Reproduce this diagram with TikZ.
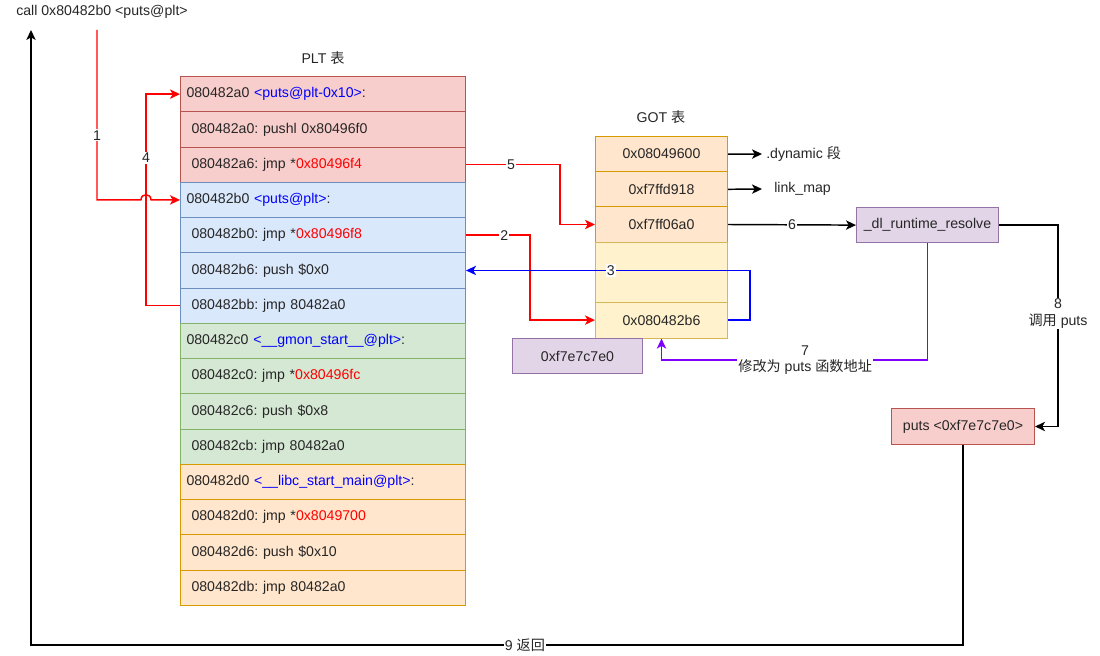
\documentclass[tikz,border=0pt]{standalone}
\usepackage{fontspec}
\setmainfont{Liberation Sans}
\newfontfamily\cjk{Noto Sans CJK SC}
\usetikzlibrary{arrows.meta,calc}
\frenchspacing
\definecolor{redF}{HTML}{F8CECC}\definecolor{redS}{HTML}{B85450}
\definecolor{bluF}{HTML}{DAE8FC}\definecolor{bluS}{HTML}{6C8EBF}
\definecolor{grnF}{HTML}{D5E8D4}\definecolor{grnS}{HTML}{82B366}
\definecolor{orgF}{HTML}{FFE6CC}\definecolor{orgS}{HTML}{D79B00}
\definecolor{yelF}{HTML}{FFF2CC}\definecolor{yelS}{HTML}{D6B656}
\definecolor{purF}{HTML}{E1D5E7}\definecolor{purS}{HTML}{9673A6}
\definecolor{txtblue}{HTML}{0000FF}\definecolor{txtred}{HTML}{FF0000}
\definecolor{violet7}{HTML}{7F00FF}
\begin{document}
\begin{tikzpicture}[x=0.75pt,y=-0.75pt,
  every node/.style={font=\fontsize{10.6pt}{12.4pt}\selectfont\frenchspacing, text=black!85},
  hdr/.style={draw, line width=0.75pt, anchor=north west, minimum height=26.45pt, inner ysep=0pt, inner xsep=4.5pt, text width=204.75pt, align=left},
  ins/.style={draw, line width=0.75pt, anchor=north west, minimum height=26.45pt, inner ysep=0pt, inner xsep=8.25pt, text width=197.25pt, align=left},
  cred/.style={fill=redF, draw=redS}, cblu/.style={fill=bluF, draw=bluS},
  cgrn/.style={fill=grnF, draw=grnS}, corg/.style={fill=orgF, draw=orgS},
  gotc/.style={draw, line width=0.75pt, anchor=north west, minimum width=99pt, inner sep=0pt, align=center},
  pbox/.style={draw, line width=0.75pt, anchor=north west, inner sep=0pt, align=center},
  conn/.style={line width=1.1pt, -{Stealth[length=7.5pt,width=7pt,inset=2pt]}},
  lbl/.style={fill=white, inner sep=0.8pt, align=center},
  plain/.style={inner sep=0pt}
]
\useasboundingbox (0,0) rectangle (1100,656);

% title texts
\node[plain, anchor=west] (call) at (16,12) {call 0x80482b0 <puts@plt>};
\node[plain] (pltT) at (323,58) {PLT {\cjk 表}};
\node[plain] (gotT) at (661,117) {GOT {\cjk 表}};

% PLT table
\node[hdr,cred] (p1) at (180,76.00) {080482a0 \textcolor{txtblue}{<puts@plt-0x10>}:};
\node[ins,cred] (p2) at (180,111.27) {080482a0: pushl 0x80496f0};
\node[ins,cred] (p3) at (180,146.53) {080482a6: jmp *\textcolor{txtred}{0x80496f4}};
\node[hdr,cblu] (p4) at (180,181.80) {080482b0 \textcolor{txtblue}{<puts@plt>}:};
\node[ins,cblu] (p5) at (180,217.07) {080482b0: jmp *\textcolor{txtred}{0x80496f8}};
\node[ins,cblu] (p6) at (180,252.33) {080482b6: push \$0x0};
\node[ins,cblu] (p7) at (180,287.60) {080482bb: jmp 80482a0};
\node[hdr,cgrn] (p8) at (180,322.87) {080482c0 \textcolor{txtblue}{<\_\_gmon\_start\_\_@plt>}:};
\node[ins,cgrn] (p9) at (180,358.13) {080482c0: jmp *\textcolor{txtred}{0x80496fc}};
\node[ins,cgrn] (p10) at (180,393.40) {080482c6: push \$0x8};
\node[ins,cgrn] (p11) at (180,428.67) {080482cb: jmp 80482a0};
\node[hdr,corg] (p12) at (180,463.93) {080482d0 \textcolor{txtblue}{<\_\_libc\_start\_main@plt>}:};
\node[ins,corg] (p13) at (180,499.20) {080482d0: jmp *\textcolor{txtred}{0x8049700}};
\node[ins,corg] (p14) at (180,534.47) {080482d6: push \$0x10};
\node[ins,corg] (p15) at (180,569.73) {080482db: jmp 80482a0};

% GOT table
\node[gotc, fill=orgF, draw=orgS, minimum height=26.4pt] (g1) at (595,136) {0x08049600};
\node[gotc, fill=orgF, draw=orgS, minimum height=26.4pt] (g2) at (595,171.2) {0xf7ffd918};
\node[gotc, fill=orgF, draw=orgS, minimum height=26.4pt] (g3) at (595,206.4) {0xf7ff06a0};
\node[gotc, fill=yelF, draw=yelS, minimum height=45pt] (g4) at (595,241.6) {};
\node[gotc, fill=yelF, draw=yelS, minimum height=27pt] (g5) at (595,301.6) {0x080482b6};

\node[pbox, fill=purF, draw=purS, minimum width=97.5pt, minimum height=26.4pt] (val) at (512,338) {0xf7e7c7e0};
\node[pbox, fill=purF, draw=purS, minimum width=106.5pt, minimum height=26.4pt] (dl) at (856,207) {\_dl\_runtime\_resolve};
\node[pbox, fill=redF, draw=redS, minimum width=107.25pt, minimum height=27pt] (puts) at (891,408) {puts <0xf7e7c7e0>};

\node[plain, anchor=west] (dyn) at (766,154) {.dynamic {\cjk 段}};
\node[plain, anchor=west] (lmap) at (774,189) {link\_map};

% helper coordinates
\coordinate (c1) at (97,30);
\coordinate (c9) at (31,30);
\coordinate (x4) at (146,0);
\coordinate (x5) at (560,0);
\coordinate (x2) at (530,0);
\coordinate (x3) at (750,0);
\coordinate (x8) at (1058,0);
\coordinate (y9) at (0,645);
\coordinate (y7) at (0,360);

% GOT side arrows
\draw[conn, black] (g1.east) -- ([xshift=-3pt]dyn.west);
\draw[conn, black] (g2.east) -- ([xshift=-9pt]lmap.west);

% 1
\draw[conn, red] (c1) -- node[lbl, pos=0.62]{1} (c1 |- p4.west) -- ($(x4 |- p4.west)+(-5,0)$) .. controls +(0,-7) and +(0,-7) .. ($(x4 |- p4.west)+(5,0)$) -- (p4.west);
% 4
\draw[conn, red] (p7.west) -- (x4 |- p7.west) -- node[lbl, pos=0.70]{4} (x4 |- p1.west) -- (p1.west);
% 5
\draw[conn, red] (p3.east) -- node[lbl, pos=0.48]{5} (x5 |- p3.east) -- (x5 |- g3.west) -- (g3.west);
% 2
\draw[conn, red] (p5.east) -- node[lbl, pos=0.6]{2} (x2 |- p5.east) -- (x2 |- g5.west) -- (g5.west);
% 3
\draw[conn, blue] (g5.east) -- (x3 |- g5.east) -- (x3 |- p6.east) -- node[lbl, pos=0.49]{3} (p6.east);
% 6
\draw[conn, black] (g3.east) -- node[lbl]{6} (dl.west);
% 7
\draw[conn, violet7] (dl.south) -- (dl.south |- y7) -- node[lbl, pos=0.46]{7\\{\cjk 修改为} puts {\cjk 函数地址}} (g5.south |- y7) -- (g5.south);
% 8
\draw[conn, black] (dl.east) -- (x8 |- dl.east) -- node[lbl, pos=0.44]{8\\{\cjk 调用} puts} (x8 |- puts.east) -- (puts.east);
% 9
\draw[conn, black] (puts.south) -- (puts.south |- y9) -- node[lbl, pos=0.47]{9 {\cjk 返回}} (c9 |- y9) -- (c9);
\end{tikzpicture}
\end{document}
